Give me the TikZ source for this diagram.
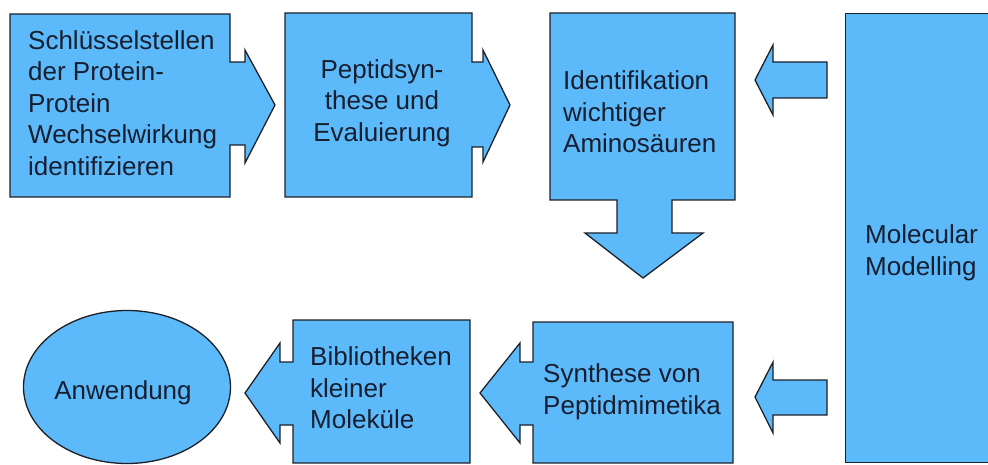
\documentclass[tikz,border=0pt]{standalone}
\usepackage{fontspec}
\setmainfont{Liberation Sans}
\usetikzlibrary{shapes.geometric}

\definecolor{boxblue}{RGB}{92,186,250}
\definecolor{boxline}{RGB}{30,32,40}
\definecolor{boxtext}{RGB}{22,30,48}

\tikzset{
    blk/.style={draw=boxline, fill=boxblue, line width=1.3pt, line join=miter},
    lbl/.style={font=\fontsize{26}{31.5}\selectfont, text=boxtext, inner sep=0pt},
}

\begin{document}
\begin{tikzpicture}[x=1pt, y=-1pt]
    \clip (0,0) rectangle (988,465);
    % top row
    \draw[blk] (10,14) -- (230,14) -- (230,62) -- (245,62) -- (245,50) -- (275,105)
        -- (245,163) -- (245,145) -- (230,145) -- (230,197) -- (10,197) -- cycle;
    \draw[blk] (285,13) -- (472,13) -- (472,62) -- (483,62) -- (483,50) -- (510,105)
        -- (483,162) -- (483,147) -- (472,147) -- (472,197) -- (285,197) -- cycle;
    \draw[blk] (550,13) -- (735,13) -- (735,200) -- (672,200) -- (672,233) -- (703,233)
        -- (643,278) -- (585,233) -- (617,233) -- (617,200) -- (550,200) -- cycle;
    % molecular modelling and its two arrows
    \node[blk, rectangle, anchor=north west, minimum width=160pt, minimum height=449pt,
        inner sep=0pt] (mm) at (845,13) {};
    \draw[blk] (827,62) -- (773,62) -- (773,45) -- (755,80) -- (773,115) -- (773,98)
        -- (827,98) -- cycle;
    \draw[blk] (827,380) -- (773,380) -- (773,362) -- (755,397) -- (773,433) -- (773,415)
        -- (827,415) -- cycle;
    % bottom row
    \draw[blk] (533,322) -- (733,322) -- (733,463) -- (533,463) -- (533,425) -- (520,425)
        -- (520,443) -- (480,393) -- (520,343) -- (520,362) -- (533,362) -- cycle;
    \draw[blk] (293,320) -- (470,320) -- (470,463) -- (293,463) -- (293,425) -- (280,425)
        -- (280,443) -- (245,393) -- (280,343) -- (280,362) -- (293,362) -- cycle;
    \node[blk, ellipse, minimum width=207pt, minimum height=153pt, inner sep=0pt]
        (anw) at (127,387) {};

    % labels
    \node[lbl, anchor=west, align=left] (schl) at (28,103)
        {Schlüsselstellen\\der Protein-\\Protein\\Wechselwirkung\\identifizieren};
    \node[lbl, align=center] (pept) at (382,103) {Peptidsyn-\\these und\\Evaluierung};
    \node[lbl, anchor=west, align=left] (iden) at (563,112)
        {Identifikation\\wichtiger\\Aminosäuren};
    \node[lbl, anchor=west, align=left] (molt) at (865,253) {Molecular\\Modelling};
    \node[lbl, anchor=west, align=left] (synt) at (543,392)
        {Synthese von\\Peptidmimetika};
    \node[lbl, anchor=west, align=left] (bibl) at (310,388)
        {Bibliotheken\\kleiner\\Moleküle};
    \node[lbl] (anwt) at (123,393) {Anwendung};
\end{tikzpicture}
\end{document}
